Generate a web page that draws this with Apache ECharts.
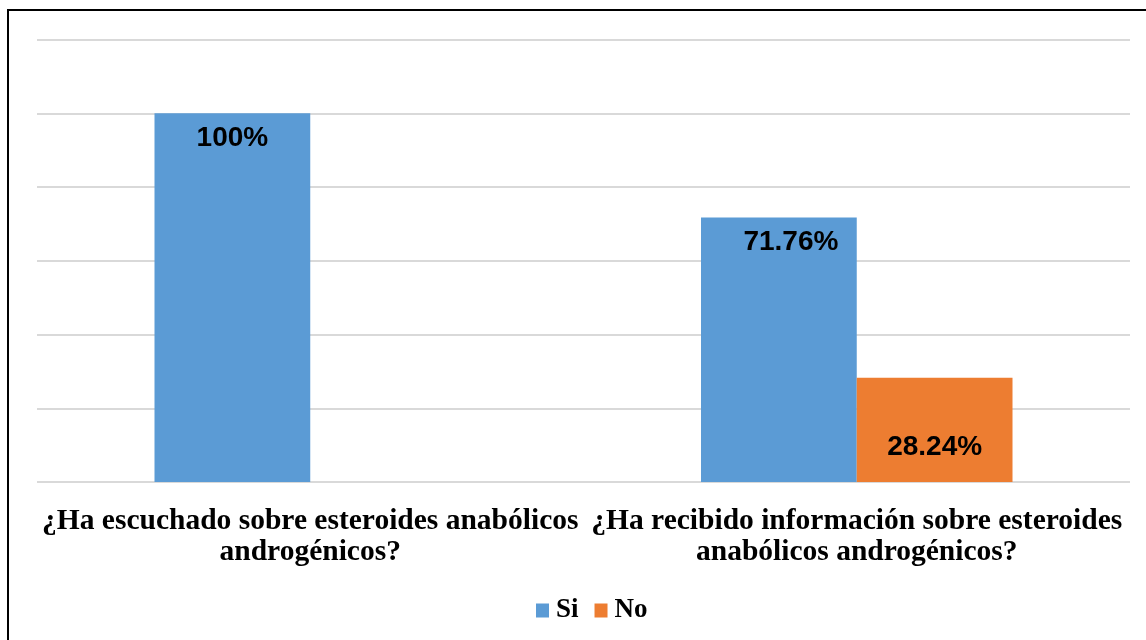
<!DOCTYPE html>
<html>
<head>
<meta charset="utf-8">
<script src="https://cdn.jsdelivr.net/npm/echarts@6/dist/echarts.min.js"></script>
<style>
    html, body { margin: 0; padding: 0; background: #fff; }
    #frame {
        position: absolute; left: 7px; top: 9px;
        width: 1300px; height: 800px;
        border: 2px solid #000;
    }
    #chart { position: absolute; left: 0; top: 0; width: 1146px; height: 640px; }
</style>
</head>
<body>
<div id="frame"></div>
<div id="chart"></div>
<script>
const categories = [
    '¿Ha escuchado sobre esteroides anabólicos\nandrogénicos?',
    '¿Ha recibido información sobre esteroides\nanabólicos androgénicos?'
];
const siValues = [100, 71.76];
const noValues = [null, 28.24];
const yTicks = { min: 0, max: 120, interval: 20 };

const chart = echarts.init(document.getElementById('chart'));

const labelFont = {
    fontFamily: 'Liberation Sans, Arial, sans-serif',
    fontWeight: 'bold',
    fontSize: 28,
    color: '#000'
};

// the second Si label sits a little right of centre in the original
const siData = siValues.map((v, i) => i === 1 ? { value: v, label: { offset: [12, 0] } } : v);

chart.setOption({
    animation: false,
    grid: { left: 37, right: 16, top: 39.5, bottom: 158, outerBoundsMode: 'none' },
    legend: {
        top: 592,
        left: 531,
        itemWidth: 13,
        itemHeight: 14,
        itemGap: 16,
        icon: 'rect',
        textStyle: {
            fontFamily: 'Liberation Serif, Times New Roman, serif',
            fontWeight: 'bold',
            fontSize: 27,
            color: '#000',
            padding: [0, 0, 0, 2]
        },
        data: ['Si', 'No']
    },
    xAxis: {
        type: 'category',
        data: categories,
        axisLine: { show: false },
        axisTick: { show: false },
        axisLabel: {
            interval: 0,
            margin: 24,
            fontFamily: 'Liberation Serif, Times New Roman, serif',
            fontWeight: 'bold',
            fontSize: 29.5,
            lineHeight: 31,
            color: '#000'
        }
    },
    yAxis: {
        type: 'value',
        min: yTicks.min,
        max: yTicks.max,
        interval: yTicks.interval,
        axisLabel: { show: false },
        axisLine: { show: false },
        axisTick: { show: false },
        splitLine: { lineStyle: { color: '#d9d9d9', width: 2 } }
    },
    series: [
        {
            name: 'Si',
            type: 'bar',
            data: siData,
            barGap: '0%',
            barCategoryGap: '43%',
            itemStyle: { color: '#5b9bd5' },
            label: {
                show: true,
                position: 'insideTop',
                distance: 11,
                formatter: p => p.value + '%',
                ...labelFont
            }
        },
        {
            name: 'No',
            type: 'bar',
            data: noValues,
            itemStyle: { color: '#ed7d31' },
            label: {
                show: true,
                position: 'insideBottom',
                distance: 21,
                formatter: p => p.value + '%',
                ...labelFont
            }
        }
    ]
});
</script>
</body>
</html>
